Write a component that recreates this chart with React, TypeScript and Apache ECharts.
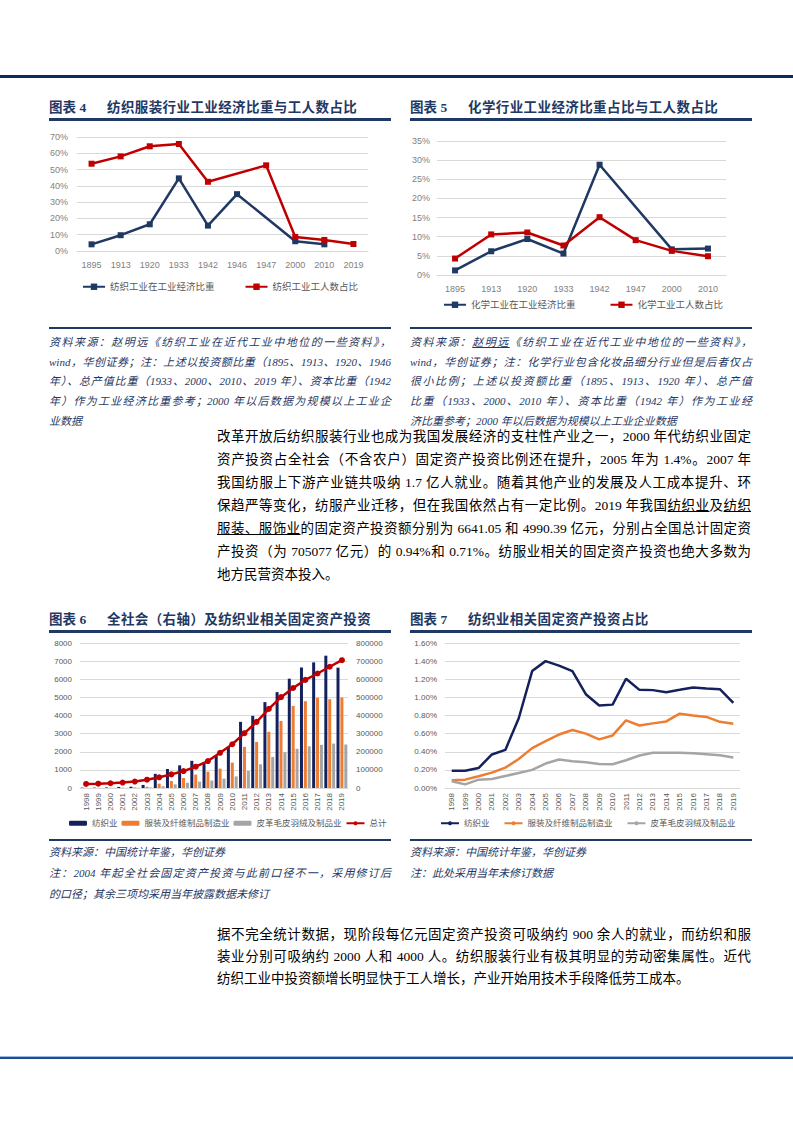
import React, { useEffect, useRef } from 'react';
import * as echarts from 'echarts';

// ---------- DATA ----------
const years4 = ['1895', '1913', '1920', '1933', '1942', '1946', '1947', '2000', '2010', '2019'];
const textileEcon4 = [4.1, 9.7, 16.4, 44.6, 15.6, 34.9, null, 6.0, 4.1, null];
const textileWorkers4 = [53.6, 58.1, 64.3, 65.7, 42.5, null, 52.6, 8.6, 6.8, 4.3];

const years5 = ['1895', '1913', '1920', '1933', '1942', '1947', '2000', '2010'];
const chemEcon5 = [1.2, 6.2, 9.4, 5.6, 28.8, null, 6.7, 6.9];
const chemWorkers5 = [4.3, 10.6, 11.1, 7.7, 15.1, 9.1, 6.3, 4.9];

const years6 = ['1998', '1999', '2000', '2001', '2002', '2003', '2004', '2005', '2006', '2007', '2008',
  '2009', '2010', '2011', '2012', '2013', '2014', '2015', '2016', '2017', '2018', '2019'];
const textileInv = [20, 20, 30, 60, 70, 170, 780, 1050, 1250, 1500, 1430, 1770, 2260, 3650, 3980, 4740, 5290, 6030, 6650, 6930, 7300, 6641];
const apparelInv = [10, 10, 15, 20, 35, 70, 240, 390, 550, 740, 900, 1070, 1400, 2270, 2540, 3100, 3700, 4530, 4790, 4980, 4900, 4990];
const leatherInv = [5, 5, 8, 10, 15, 30, 100, 200, 290, 350, 410, 520, 640, 940, 1310, 1710, 1970, 2170, 2300, 2380, 2450, 2400];
const totalInv = [22491, 23732, 26222, 30001, 35489, 45812, 59028, 75095, 93369, 117464, 148738, 194139,
  241431, 302396, 364854, 436528, 501265, 551590, 596501, 631684, 669000, 705077];

const textileShare = [0.19, 0.19, 0.22, 0.37, 0.42, 0.77, 1.29, 1.40, 1.35, 1.29, 1.035, 0.91, 0.92, 1.205, 1.083, 1.08, 1.057, 1.083, 1.11, 1.098, 1.09, 0.94];
const apparelShare = [0.085, 0.092, 0.13, 0.17, 0.225, 0.32, 0.44, 0.517, 0.59, 0.64, 0.60, 0.536, 0.58, 0.747, 0.69, 0.713, 0.735, 0.82, 0.80, 0.784, 0.73, 0.71];
const leatherShare = [0.074, 0.04, 0.092, 0.10, 0.133, 0.166, 0.20, 0.27, 0.314, 0.296, 0.285, 0.266, 0.262, 0.306, 0.359, 0.39, 0.39, 0.39, 0.384, 0.373, 0.362, 0.336];

// ---------- STYLE ----------
const NAVY = '#203864';
const RED = '#c00000';
const BAR_NAVY = '#14215c';
const ORANGE = '#ed7d31';
const GRAY = '#a5a5a5';
const TITLE = '#1f3864';
const CFONT = '"Liberation Sans", "Noto Sans CJK SC", sans-serif';
const SERIF = '"Liberation Serif", "Noto Sans CJK SC", serif';

const axisLabel = { color: '#7f7f7f', fontSize: 9, fontFamily: CFONT };
const splitLine = { lineStyle: { color: '#d9d9d9', width: 1 } };
const plainNum = (v: number) => String(v);

const opt4 = {
  animation: false,
  textStyle: { fontFamily: CFONT },
  grid: { left: 37, right: 27, top: 15, height: 114 },
  legend: {
    left: 42, top: 160, padding: 0, itemWidth: 22, itemHeight: 8, itemGap: 30,
    textStyle: { fontSize: 9.5, color: '#595959' },
    data: ['纺织工业在工业经济比重', '纺织工业工人数占比'],
  },
  xAxis: {
    type: 'category', data: years4,
    axisLine: { lineStyle: { color: '#d9d9d9' } }, axisTick: { show: false },
    axisLabel: { ...axisLabel, margin: 9 },
  },
  yAxis: {
    type: 'value', min: 0, max: 70, interval: 10,
    axisLabel: { ...axisLabel, formatter: '{value}%', margin: 9 },
    splitLine,
  },
  series: [
    {
      name: '纺织工业在工业经济比重', type: 'line', data: textileEcon4, connectNulls: true,
      symbol: 'rect', symbolSize: 6, lineStyle: { width: 2.5, color: NAVY }, itemStyle: { color: NAVY },
    },
    {
      name: '纺织工业工人数占比', type: 'line', data: textileWorkers4, connectNulls: true,
      symbol: 'rect', symbolSize: 6, lineStyle: { width: 2.5, color: RED }, itemStyle: { color: RED },
    },
  ],
};

const opt5 = {
  animation: false,
  textStyle: { fontFamily: CFONT },
  grid: { left: 37, right: 29, top: 19, height: 134 },
  legend: {
    left: 43, top: 178, padding: 0, itemWidth: 22, itemHeight: 8, itemGap: 34,
    textStyle: { fontSize: 9.5, color: '#595959' },
    data: ['化学工业在工业经济比重', '化学工业工人数占比'],
  },
  xAxis: {
    type: 'category', data: years5,
    axisLine: { lineStyle: { color: '#d9d9d9' } }, axisTick: { show: false },
    axisLabel: { ...axisLabel, margin: 9 },
  },
  yAxis: {
    type: 'value', min: 0, max: 35, interval: 5,
    axisLabel: { ...axisLabel, formatter: '{value}%', margin: 7 },
    splitLine,
  },
  series: [
    {
      name: '化学工业在工业经济比重', type: 'line', data: chemEcon5, connectNulls: true,
      symbol: 'rect', symbolSize: 6, lineStyle: { width: 2.5, color: NAVY }, itemStyle: { color: NAVY },
    },
    {
      name: '化学工业工人数占比', type: 'line', data: chemWorkers5, connectNulls: true,
      symbol: 'rect', symbolSize: 6, lineStyle: { width: 2.5, color: RED }, itemStyle: { color: RED },
    },
  ],
};

const opt6 = {
  animation: false,
  textStyle: { fontFamily: CFONT },
  grid: { left: 40, right: 52, top: 11, height: 145 },
  legend: {
    left: 29, top: 187, padding: 0, itemWidth: 18, itemHeight: 5, itemGap: 4,
    textStyle: { fontSize: 8.5, color: '#595959' },
    data: ['纺织业', '服装及纤维制品制造业', '皮革毛皮羽绒及制品业', '总计'],
  },
  xAxis: {
    type: 'category', data: years6,
    axisLine: { lineStyle: { color: '#d9d9d9' } }, axisTick: { show: false },
    axisLabel: { color: '#595959', fontSize: 8, rotate: 90, margin: 5 },
  },
  yAxis: [
    {
      type: 'value', min: 0, max: 8000, interval: 1000,
      axisLabel: { color: '#595959', fontSize: 8, margin: 8, formatter: plainNum }, splitLine,
    },
    {
      type: 'value', min: 0, max: 800000, interval: 100000,
      axisLabel: { color: '#595959', fontSize: 8, margin: 8, formatter: plainNum }, splitLine: { show: false },
    },
  ],
  series: [
    { name: '纺织业', type: 'bar', data: textileInv, barWidth: 3, barGap: '30%', itemStyle: { color: BAR_NAVY } },
    { name: '服装及纤维制品制造业', type: 'bar', data: apparelInv, barWidth: 3, barGap: '30%', itemStyle: { color: ORANGE } },
    { name: '皮革毛皮羽绒及制品业', type: 'bar', data: leatherInv, barWidth: 3, barGap: '30%', itemStyle: { color: GRAY } },
    {
      name: '总计', type: 'line', yAxisIndex: 1, data: totalInv, symbol: 'circle', symbolSize: 6,
      lineStyle: { width: 2.5, color: RED }, itemStyle: { color: RED },
    },
  ],
};

const opt7 = {
  animation: false,
  textStyle: { fontFamily: CFONT },
  grid: { left: 45, right: 15, top: 11, height: 145 },
  legend: {
    left: 40, top: 187, padding: 0, itemWidth: 18, itemHeight: 5, itemGap: 14,
    textStyle: { fontSize: 8.5, color: '#595959' },
    data: ['纺织业', '服装及纤维制品制造业', '皮革毛皮羽绒及制品业'],
  },
  xAxis: {
    type: 'category', data: years6,
    axisLine: { lineStyle: { color: '#d9d9d9' } }, axisTick: { show: false },
    axisLabel: { color: '#595959', fontSize: 8, rotate: 90, margin: 5 },
  },
  yAxis: {
    type: 'value', min: 0, max: 1.6, interval: 0.2,
    axisLabel: { color: '#595959', fontSize: 8, margin: 8, formatter: (v: number) => v.toFixed(2) + '%' },
    splitLine,
  },
  series: [
    { name: '纺织业', type: 'line', data: textileShare, showSymbol: false, symbol: 'none', lineStyle: { width: 2.5, color: BAR_NAVY }, itemStyle: { color: BAR_NAVY } },
    { name: '服装及纤维制品制造业', type: 'line', data: apparelShare, showSymbol: false, symbol: 'none', lineStyle: { width: 2.5, color: ORANGE }, itemStyle: { color: ORANGE } },
    { name: '皮革毛皮羽绒及制品业', type: 'line', data: leatherShare, showSymbol: false, symbol: 'none', lineStyle: { width: 2.5, color: GRAY }, itemStyle: { color: GRAY } },
  ],
};

// ---------- TEXT ----------
type Seg = string | [string, boolean];

const note4: Seg[][] = [
  ['资料来源：赵明远《纺织工业在近代工业中地位的一些资料》，'],
  ['wind，华创证券；注：上述以投资额比重（1895、1913、1920、1946'],
  ['年）、总产值比重（1933、2000、2010、2019 年）、资本比重（1942'],
  ['年）作为工业经济比重参考；2000  年以后数据为规模以上工业企'],
  ['业数据'],
];
const note5: Seg[][] = [
  ['资料来源：', ['赵明远', true], '《纺织工业在近代工业中地位的一些资料》，'],
  ['wind，华创证券；注：化学行业包含化妆品细分行业但是后者仅占'],
  ['很小比例；上述以投资额比重（1895、1913、1920 年）、总产值'],
  ['比重（1933、2000、2010 年）、资本比重（1942 年）作为工业经'],
  ['济比重参考；2000 年以后数据为规模以上工业企业数据'],
];
const note6: Seg[][] = [
  ['资料来源：中国统计年鉴，华创证券'],
  ['注：2004 年起全社会固定资产投资与此前口径不一，采用修订后'],
  ['的口径；其余三项均采用当年披露数据未修订'],
];
const note7: Seg[][] = [
  ['资料来源：中国统计年鉴，华创证券'],
  ['注：此处采用当年未修订数据'],
];
const para1: Seg[][] = [
  ['改革开放后纺织服装行业也成为我国发展经济的支柱性产业之一，2000 年代纺织业固定'],
  ['资产投资占全社会（不含农户）固定资产投资比例还在提升，2005 年为 1.4%。2007 年'],
  ['我国纺服上下游产业链共吸纳 1.7 亿人就业。随着其他产业的发展及人工成本提升、环'],
  ['保趋严等变化，纺服产业迁移，但在我国依然占有一定比例。2019 年我国', ['纺织业', true], '及', ['纺织', true]],
  [['服装、服饰业', true], '的固定资产投资额分别为 6641.05 和 4990.39 亿元，分别占全国总计固定资'],
  ['产投资（为 705077 亿元）的 0.94%和 0.71%。纺服业相关的固定资产投资也绝大多数为'],
  ['地方民营资本投入。'],
];
const para2: Seg[][] = [
  ['据不完全统计数据，现阶段每亿元固定资产投资可吸纳约 900 余人的就业，而纺织和服'],
  ['装业分别可吸纳约 2000 人和 4000 人。纺织服装行业有极其明显的劳动密集属性。近代'],
  ['纺织工业中投资额增长明显快于工人增长，产业开始用技术手段降低劳工成本。'],
];

// ---------- COMPONENTS ----------
function Chart({ option, left, top, width, height }: any) {
  const ref = useRef<HTMLDivElement>(null);
  useEffect(() => {
    const c = echarts.init(ref.current as HTMLDivElement, null, { renderer: 'svg' });
    c.setOption(option);
    return () => c.dispose();
  }, []);
  return <div ref={ref} style={{ position: 'absolute', left, top, width, height }} />;
}

function TextLines({ lines, x, y0, step, w, size, style, plain = [] }: any) {
  return (
    <>
      {lines.map((segs: Seg[], i: number) => {
        const isLast = i === lines.length - 1;
        const justify = !isLast && !plain.includes(i);
        return (
          <div
            key={i}
            style={{
              position: 'absolute', left: x, top: y0 + i * step - 10, width: w, height: 20,
              lineHeight: '20px', fontSize: size, textAlign: 'justify',
              textAlignLast: justify ? 'justify' : 'left', whiteSpace: 'nowrap', ...style,
            }}
          >
            {segs.map((s, j) =>
              typeof s === 'string' ? <span key={j}>{s}</span> :
                <span key={j} style={{ textDecoration: s[1] ? 'underline' : 'none' }}>{s[0]}</span>
            )}
          </div>
        );
      })}
    </>
  );
}

function Title({ x, y, num, text }: any) {
  const base: any = {
    position: 'absolute', top: y - 9, height: 18, lineHeight: '18px', fontWeight: 'bold',
    color: TITLE, fontSize: 13.5, fontFamily: SERIF, whiteSpace: 'nowrap',
  };
  return (
    <>
      <div style={{ ...base, left: x }}>图表 {num}</div>
      <div style={{ ...base, left: x + 58, letterSpacing: 0.4 }}>{text}</div>
      <div style={{ position: 'absolute', left: x, top: y + 10, width: 342, height: 2.5, background: TITLE }} />
    </>
  );
}

const noteStyle = { fontStyle: 'italic', color: TITLE, fontFamily: SERIF };
const paraStyle = { color: '#000', fontFamily: SERIF };

export default function App() {
  return (
    <div style={{ position: 'absolute', left: 0, top: 0, width: 793, height: 1122, background: '#fff', overflow: 'hidden' }}>
      {/* header / footer rules */}
      <div style={{ position: 'absolute', left: 0, top: 75, width: 793, height: 3, background: '#0b2b5b' }} />
      <div style={{ position: 'absolute', left: 0, top: 1056, width: 793, height: 1, background: '#9dbbe0' }} />
      <div style={{ position: 'absolute', left: 0, top: 1057, width: 793, height: 2, background: '#1f4e8c' }} />

      {/* Chart 4 */}
      <Title x={49} y={108} num={4} text="纺织服装行业工业经济比重与工人数占比" />
      <Chart option={opt4} left={40} top={122} width={355} height={182} />
      <div style={{ position: 'absolute', left: 49, top: 327, width: 342, height: 2, background: TITLE }} />
      <TextLines lines={note4} x={49} y0={342} step={19.7} w={342} size={11} style={noteStyle} />

      {/* Chart 5 */}
      <Title x={410} y={108} num={5} text="化学行业工业经济比重占比与工人数占比" />
      <Chart option={opt5} left={400} top={122} width={355} height={195} />
      <div style={{ position: 'absolute', left: 410, top: 327, width: 342, height: 2, background: TITLE }} />
      <TextLines lines={note5} x={410} y0={342} step={19.7} w={342} size={11} style={noteStyle} />

      {/* Paragraph 1 */}
      <TextLines lines={para1} x={217} y0={437} step={23} w={534} size={13.5} style={paraStyle} />

      {/* Chart 6 */}
      <Title x={49} y={620} num={6} text="全社会（右轴）及纺织业相关固定资产投资" />
      <Chart option={opt6} left={40} top={632} width={360} height={206} />
      <div style={{ position: 'absolute', left: 49, top: 839, width: 342, height: 2, background: TITLE }} />
      <TextLines lines={note6} x={49} y0={852} step={21} w={342} size={11} style={noteStyle} plain={[0]} />

      {/* Chart 7 */}
      <Title x={410} y={620} num={7} text="纺织业相关固定资产投资占比" />
      <Chart option={opt7} left={400} top={632} width={355} height={206} />
      <div style={{ position: 'absolute', left: 410, top: 839, width: 342, height: 2, background: TITLE }} />
      <TextLines lines={note7} x={410} y0={852} step={21} w={342} size={11} style={noteStyle} plain={[0]} />

      {/* Paragraph 2 */}
      <TextLines lines={para2} x={217} y0={935} step={22} w={534} size={13.5} style={paraStyle} />
    </div>
  );
}
